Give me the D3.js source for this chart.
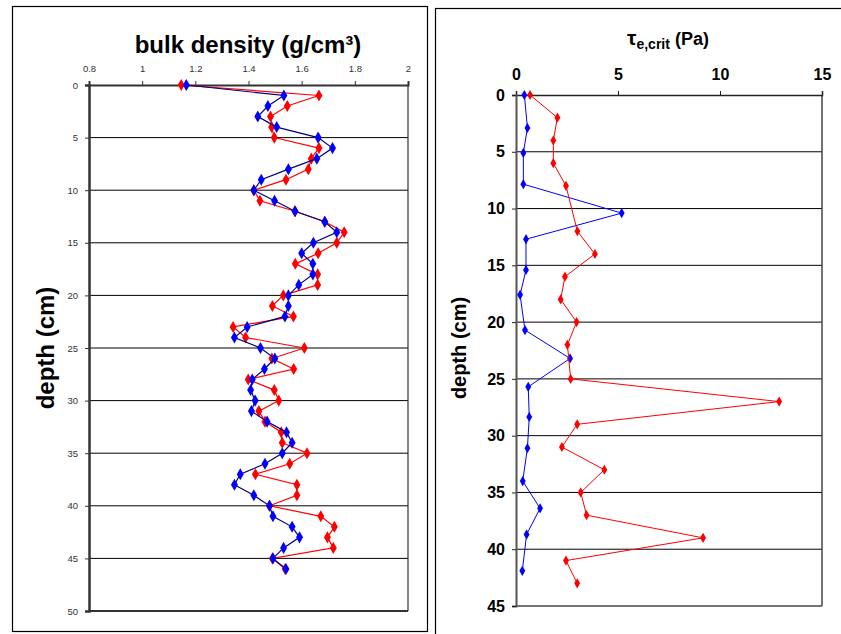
<!DOCTYPE html>
<html><head><meta charset="utf-8">
<script src="https://d3js.org/d3.v7.min.js"></script>
<style>body{margin:0;background:#fff}svg{display:block}</style>
</head><body>
<script>
// ---- Left chart data: bulk density (g/cm3) by depth (cm)
const bdDepth = d3.range(0, 47);
const bdBlue = [1.166,1.533,1.473,1.435,1.506,1.662,1.716,1.657,1.55,1.448,1.42,1.498,1.575,1.687,1.732,1.644,1.6,1.642,1.642,1.589,1.55,1.55,1.537,1.395,1.347,1.445,1.499,1.46,1.414,1.408,1.425,1.411,1.47,1.543,1.564,1.527,1.462,1.369,1.347,1.42,1.479,1.492,1.564,1.592,1.532,1.492,1.541];
const bdRed  = [1.147,1.665,1.546,1.483,1.487,1.497,1.665,1.636,1.625,1.541,1.42,1.443,1.575,1.687,1.76,1.732,1.662,1.576,1.66,1.66,1.531,1.49,1.569,1.342,1.389,1.61,1.488,1.57,1.399,1.497,1.514,1.439,1.462,1.523,1.527,1.62,1.555,1.426,1.582,1.582,1.479,1.672,1.723,1.697,1.719,1.49,1.538];
const bdTicksX = [0.8,1,1.2,1.4,1.6,1.8,2];
const bdTicksY = [0,5,10,15,20,25,30,35,40,45,50];

// ---- Right chart data: critical erosion shear stress (Pa) by depth (cm)
const tauBlueDepth = [0,2.9,5.1,7.85,10.4,12.7,15.4,17.6,20.7,23.2,25.7,28.35,31.1,34,36.4,38.7,41.9];
const tauBlue      = [0.41,0.56,0.36,0.36,5.18,0.49,0.49,0.2,0.44,2.65,0.6,0.65,0.56,0.33,1.18,0.52,0.31];
const tauRedDepth  = [0,2,4,6,8,12,14,16,18,20,22,25,27,29,31,33,35,37,39,41,43];
const tauRed       = [0.69,2.03,1.83,1.83,2.45,3.01,3.87,2.4,2.19,2.97,2.52,2.68,12.9,3.0,2.25,4.33,3.17,3.46,9.17,2.45,3.0];
const tauTicksX = [0,5,10,15];
const tauTicksY = [0,5,10,15,20,25,30,35,40,45];

const W = 841, H = 634;
const svg = d3.select("body").append("svg").attr("width", W).attr("height", H);
const font = "Arial, 'Liberation Sans', sans-serif";

// panel frames
svg.append("rect").attr("x",12.5).attr("y",6.5).attr("width",415).attr("height",625)
  .attr("fill","none").attr("stroke","#000").attr("stroke-width",1.2);
svg.append("rect").attr("x",435.5).attr("y",8.5).attr("width",420).attr("height",640)
  .attr("fill","none").attr("stroke","#000").attr("stroke-width",1.2);

// ================= LEFT CHART =================
{
  const x = d3.scaleLinear().domain([0.8,2]).range([89,408]);
  const y = d3.scaleLinear().domain([0,50]).range([85,611]);
  const g = svg.append("g");
  g.selectAll(".grid").data(bdTicksY.filter(v=>v>0 && v<50)).join("line")
    .attr("x1",x(0.8)).attr("x2",x(2)).attr("y1",d=>y(d)).attr("y2",d=>y(d))
    .attr("stroke","#000").attr("stroke-width",1);
  g.append("line").attr("x1",x(2)).attr("x2",x(2)).attr("y1",y(0)).attr("y2",y(50))
    .attr("stroke","#333").attr("stroke-width",1.2);
  g.append("line").attr("x1",x(0.8)).attr("x2",x(2)).attr("y1",y(50)).attr("y2",y(50))
    .attr("stroke","#333").attr("stroke-width",2);
  const ax = g.append("g").attr("transform",`translate(0,${y(0)})`)
    .call(d3.axisTop(x).tickValues(bdTicksX).tickSize(4).tickFormat(d3.format("")));
  ax.select(".domain").attr("stroke","#333").attr("stroke-width",2);
  ax.selectAll("text").attr("font-family",font).attr("font-size",9.5).attr("fill","#333").attr("dy","-6");
  ax.selectAll(".tick line").attr("stroke","#333");
  const ay = g.append("g").attr("transform",`translate(${x(0.8)},0)`)
    .call(d3.axisLeft(y).tickValues(bdTicksY).tickSize(4));
  ay.select(".domain").attr("stroke","#333").attr("stroke-width",2.5);
  ay.selectAll("text").attr("font-family",font).attr("font-size",9.5).attr("fill","#333").attr("dx","-4");
  ay.selectAll(".tick line").attr("stroke","#333");

  const line = d3.line().x(d=>x(d[0])).y(d=>y(d[1]));
  const red = bdRed.map((v,i)=>[v,bdDepth[i]]);
  const blue = bdBlue.map((v,i)=>[v,bdDepth[i]]);
  g.append("path").attr("d",line(red)).attr("fill","none").attr("stroke","#ff0000").attr("stroke-width",1.2);
  g.selectAll(".rm").data(red).join("path").attr("transform",d=>`translate(${x(d[0])},${y(d[1])})`)
    .attr("d",d3.symbol().type(d3.symbolDiamond).size(42)).attr("fill","#ff0000");
  g.append("path").attr("d",line(blue)).attr("fill","none").attr("stroke","#000080").attr("stroke-width",1.2);
  g.selectAll(".bm").data(blue).join("path").attr("transform",d=>`translate(${x(d[0])},${y(d[1])})`)
    .attr("d",d3.symbol().type(d3.symbolDiamond).size(42)).attr("fill","#0000ff");

  svg.append("text").attr("x",248).attr("y",53).attr("text-anchor","middle")
    .attr("font-family",font).attr("font-weight","bold").attr("font-size",24).text("bulk density (g/cm³)");
  svg.append("text").attr("transform","translate(54,348) rotate(-90)").attr("text-anchor","middle")
    .attr("font-family",font).attr("font-weight","bold").attr("font-size",24).text("depth (cm)");
}

// ================= RIGHT CHART =================
{
  const x = d3.scaleLinear().domain([0,15]).range([516,822]);
  const y = d3.scaleLinear().domain([0,45]).range([95,606]);
  const g = svg.append("g");
  g.selectAll(".grid").data(tauTicksY.filter(v=>v>0 && v<45)).join("line")
    .attr("x1",x(0)).attr("x2",x(15)).attr("y1",d=>y(d)).attr("y2",d=>y(d))
    .attr("stroke","#000").attr("stroke-width",1);
  g.append("line").attr("x1",x(15)).attr("x2",x(15)).attr("y1",y(0)).attr("y2",y(45))
    .attr("stroke","#444").attr("stroke-width",1.5);
  g.append("line").attr("x1",x(0)).attr("x2",x(15)).attr("y1",y(45)).attr("y2",y(45))
    .attr("stroke","#444").attr("stroke-width",1.5);
  const ax = g.append("g").attr("transform",`translate(0,${y(0)})`)
    .call(d3.axisTop(x).tickValues(tauTicksX).tickSize(4));
  ax.select(".domain").attr("stroke","#222").attr("stroke-width",1.5);
  ax.selectAll("text").attr("font-family",font).attr("font-weight","bold").attr("font-size",16).attr("fill","#000").attr("dy","-8");
  ax.selectAll(".tick line").attr("stroke","#222");
  const ay = g.append("g").attr("transform",`translate(${x(0)},0)`)
    .call(d3.axisLeft(y).tickValues(tauTicksY).tickSize(4));
  ay.select(".domain").attr("stroke","#555").attr("stroke-width",2);
  ay.selectAll("text").attr("font-family",font).attr("font-weight","bold").attr("font-size",16).attr("fill","#000").attr("dx","-4");
  ay.selectAll(".tick line").attr("stroke","#222");

  const line = d3.line().x(d=>x(d[0])).y(d=>y(d[1]));
  const blue = tauBlue.map((v,i)=>[v,tauBlueDepth[i]]);
  const red = tauRed.map((v,i)=>[v,tauRedDepth[i]]);
  g.append("path").attr("d",line(blue)).attr("fill","none").attr("stroke","#0000ff").attr("stroke-width",1);
  g.selectAll(".bm").data(blue).join("path").attr("transform",d=>`translate(${x(d[0])},${y(d[1])})`)
    .attr("d",d3.symbol().type(d3.symbolDiamond).size(30)).attr("fill","#0000ff");
  g.append("path").attr("d",line(red)).attr("fill","none").attr("stroke","#ff0000").attr("stroke-width",1);
  g.selectAll(".rm").data(red).join("path").attr("transform",d=>`translate(${x(d[0])},${y(d[1])})`)
    .attr("d",d3.symbol().type(d3.symbolDiamond).size(30)).attr("fill","#ff0000");

  const t = svg.append("text").attr("x",668).attr("y",45).attr("text-anchor","middle")
    .attr("font-family",font).attr("font-size",18);
  t.append("tspan").attr("font-size",21).attr("font-weight","bold").text("τ");
  t.append("tspan").attr("font-weight","bold").attr("font-size",14).attr("dy",4).text("e,crit");
  t.append("tspan").attr("font-weight","bold").attr("dy",-4).text(" (Pa)");
  svg.append("text").attr("transform","translate(466,348) rotate(-90)").attr("text-anchor","middle")
    .attr("font-family",font).attr("font-weight","bold").attr("font-size",20).text("depth (cm)");
}
</script>
</body></html>
